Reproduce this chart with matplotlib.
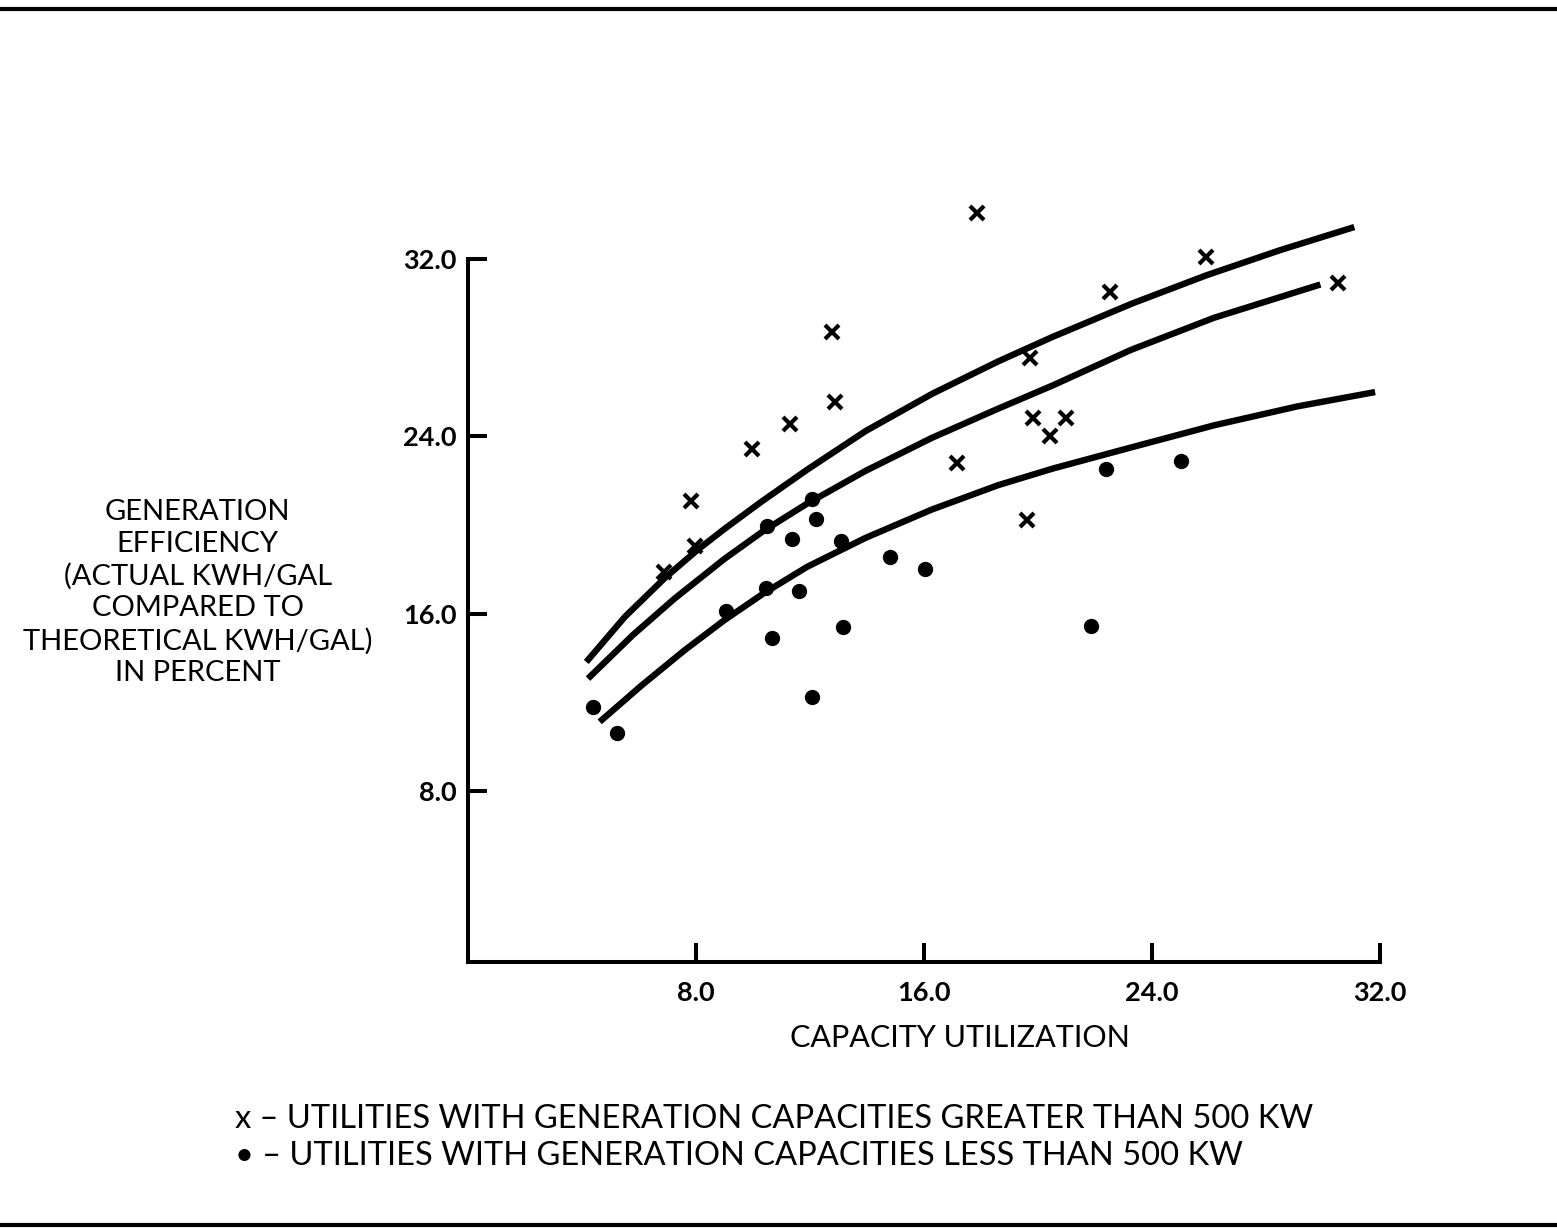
import matplotlib
matplotlib.use("Agg")
import matplotlib.pyplot as plt
from matplotlib.lines import Line2D

plt.rcParams["font.family"] = ["Lato", "DejaVu Sans"]

# utilities > 500 kW (crosses)
big_x = [12.76, 12.87, 11.29, 9.97, 7.83, 7.97, 6.89, 17.87, 25.9, 30.52,
         22.52, 19.72, 19.83, 20.98, 20.42, 17.17, 19.62]
big_y = [28.72, 25.53, 24.58, 23.42, 21.08, 19.06, 17.89, 34.07, 32.09, 30.92,
         30.52, 27.55, 24.81, 24.85, 24.0, 22.79, 20.22]

# utilities < 500 kW (dots)
small_x = [22.38, 25.03, 12.06, 12.2, 10.49, 11.36, 13.08, 14.79, 16.05, 10.45,
           11.61, 9.06, 10.66, 13.15, 21.85, 12.06, 4.37, 5.24]
small_y = [22.52, 22.88, 21.17, 20.27, 19.96, 19.37, 19.28, 18.56, 18.02, 17.17,
           17.03, 16.13, 14.92, 15.42, 15.46, 12.27, 11.82, 10.61]

# hand-drawn fitted curves
upper_x = [4.15, 5.5, 6.9, 8.05, 9.0, 10.3, 11.9, 13.95, 16.3, 18.6, 20.5, 23.3, 25.9, 28.5, 31.1]
upper_y = [13.83, 15.86, 17.61, 18.88, 19.83, 21.06, 22.5, 24.24, 25.93, 27.38, 28.48, 29.99,
           31.26, 32.40, 33.44]
middle_x = [4.21, 5.78, 7.24, 8.99, 10.38, 11.9, 13.94, 16.27, 18.6, 20.52, 23.26, 26.18, 29.91]
middle_y = [13.08, 15.04, 16.68, 18.47, 19.75, 20.97, 22.44, 23.93, 25.25, 26.3, 27.9, 29.35, 30.85]
lower_x = [4.62, 6.07, 7.59, 8.99, 10.38, 11.9, 13.94, 16.27, 18.6, 20.52, 23.26, 26.18, 29.09, 31.83]
lower_y = [11.13, 12.75, 14.35, 15.71, 16.93, 18.12, 19.42, 20.7, 21.8, 22.55, 23.5, 24.5, 25.35, 26.0]

ticks = [8.0, 16.0, 24.0, 32.0]
tick_labels = ["8.0", "16.0", "24.0", "32.0"]

fig = plt.figure(figsize=(15.57, 12.28), dpi=100)
ax = fig.add_axes([0.3006, 0.2166, 0.5857, 0.5725])

for cx, cy in [(upper_x, upper_y), (middle_x, middle_y), (lower_x, lower_y)]:
    ax.plot(cx, cy, color="black", lw=4.6, solid_capstyle="butt",
            solid_joinstyle="round", clip_on=False)

ax.plot(big_x, big_y, "x", color="black", ms=10, mew=3.0, clip_on=False)
ax.plot(small_x, small_y, "o", color="black", ms=10, clip_on=False)

ax.set_xlim(0, 32)
ax.set_ylim(0.3, 32.0)
ax.set_xticks(ticks)
ax.set_xticklabels(tick_labels)
ax.set_yticks(ticks)
ax.set_yticklabels(tick_labels)

for side in ["top", "right"]:
    ax.spines[side].set_visible(False)
for side in ["left", "bottom"]:
    ax.spines[side].set_linewidth(2.9)

ax.tick_params(axis="both", direction="in", length=14, width=2.9,
               labelsize=19.5, pad=14)
ax.tick_params(axis="y", pad=8)
for lab in ax.get_xticklabels() + ax.get_yticklabels():
    lab.set_fontweight("bold")

fig.text(0.127, 0.5175,
         "GENERATION\nEFFICIENCY\n(ACTUAL KWH/GAL\nCOMPARED TO\nTHEORETICAL KWH/GAL)\nIN PERCENT",
         ha="center", va="center", multialignment="center",
         fontsize=21, linespacing=1.28)

fig.text(0.6166, 0.1547, "CAPACITY UTILIZATION", ha="center", va="center", fontsize=22)

fig.text(0.151, 0.0888, "x \u2013 UTILITIES WITH GENERATION CAPACITIES GREATER THAN 500 KW",
         ha="left", va="center", fontsize=23.5)
fig.text(0.151, 0.0590, "\u2022 \u2013 UTILITIES WITH GENERATION CAPACITIES LESS THAN 500 KW",
         ha="left", va="center", fontsize=23.5)

# page border lines from the scan
fig.add_artist(Line2D([0, 1], [1 - 9 / 1228, 1 - 9 / 1228], color="black", lw=3,
                      transform=fig.transFigure))
fig.add_artist(Line2D([0, 1], [3 / 1228, 3 / 1228], color="black", lw=3,
                      transform=fig.transFigure))

fig.savefig("out.png", dpi=100)
